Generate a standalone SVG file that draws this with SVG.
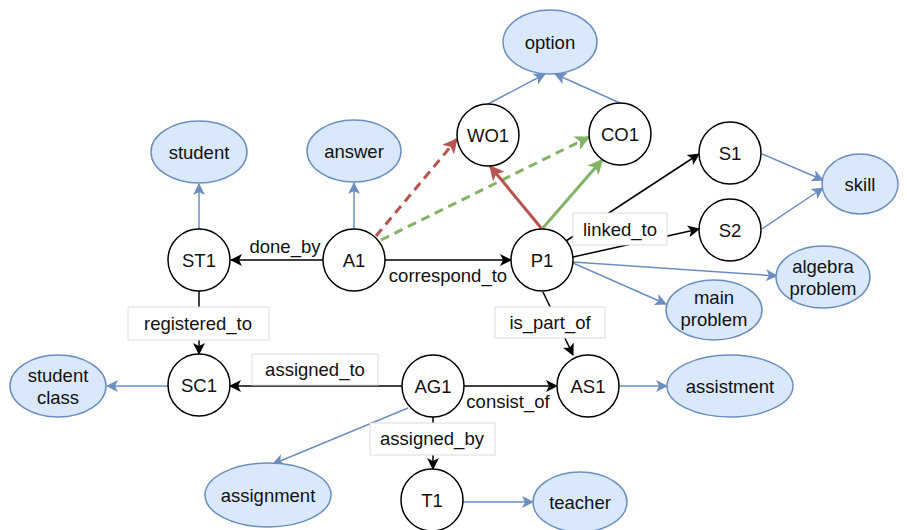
<svg xmlns="http://www.w3.org/2000/svg" width="907" height="530" viewBox="0 0 907 530">
<style>
text{font-family:"Liberation Sans",Arial,sans-serif;font-size:18.5px;fill:#111;text-anchor:middle}
.c{fill:#fff;stroke:#000;stroke-width:1.5}
.e{fill:#dae8fc;stroke:#6c8ebf;stroke-width:1.5}
.k{stroke:#000;stroke-width:1.5;fill:none}
.b{stroke:#6c8ebf;stroke-width:1.5;fill:none}
.r{stroke:#b85450;stroke-width:3;fill:none}
.g{stroke:#82b366;stroke-width:3;fill:none}
.d{stroke-dasharray:9 6}
.lb{fill:#fff;stroke:#ddd;stroke-width:1}
</style>
<defs>
<marker id="ak" viewBox="0 0 12 12" refX="11" refY="6" markerWidth="12" markerHeight="12" markerUnits="userSpaceOnUse" orient="auto"><path d="M0,0 L12,6 L0,12 L3,6 Z" fill="#000"/></marker>
<marker id="ab" viewBox="0 0 12 12" refX="11" refY="6" markerWidth="12" markerHeight="12" markerUnits="userSpaceOnUse" orient="auto"><path d="M0,0 L12,6 L0,12 L3,6 Z" fill="#6c8ebf"/></marker>
<marker id="ar" viewBox="0 0 12 12" refX="11" refY="6" markerWidth="15" markerHeight="15" markerUnits="userSpaceOnUse" orient="auto"><path d="M0,0 L12,6 L0,12 L3,6 Z" fill="#b85450"/></marker>
<marker id="ag" viewBox="0 0 12 12" refX="11" refY="6" markerWidth="15" markerHeight="15" markerUnits="userSpaceOnUse" orient="auto"><path d="M0,0 L12,6 L0,12 L3,6 Z" fill="#82b366"/></marker>
</defs>
<g id="connectors">
<line class="b" x1="199" y1="229" x2="199" y2="184" marker-end="url(#ab)"/>
<line class="b" x1="354" y1="229" x2="354" y2="183" marker-end="url(#ab)"/>
<line class="k" x1="323" y1="260" x2="231" y2="260" marker-end="url(#ak)"/>
<line class="k" x1="385" y1="260" x2="511" y2="260" marker-end="url(#ak)"/>
<line class="r d" x1="376" y1="236" x2="457" y2="139" marker-end="url(#ar)"/>
<line class="g d" x1="381" y1="240" x2="589" y2="137" marker-end="url(#ag)"/>
<line class="r" x1="542" y1="229" x2="490" y2="166" marker-end="url(#ar)"/>
<line class="g" x1="542" y1="229" x2="602" y2="160" marker-end="url(#ag)"/>
<line class="b" x1="488" y1="104" x2="545" y2="74" marker-end="url(#ab)"/>
<line class="b" x1="620" y1="103" x2="555" y2="74" marker-end="url(#ab)"/>
<line class="k" x1="566" y1="241" x2="699" y2="154" marker-end="url(#ak)"/>
<line class="k" x1="573" y1="257" x2="699" y2="229" marker-end="url(#ak)"/>
<line class="b" x1="573" y1="262" x2="777" y2="276" marker-end="url(#ab)"/>
<line class="b" x1="573" y1="263" x2="666" y2="304" marker-end="url(#ab)"/>
<line class="b" x1="762" y1="154" x2="823" y2="180" marker-end="url(#ab)"/>
<line class="b" x1="762" y1="229" x2="823" y2="188" marker-end="url(#ab)"/>
<line class="k" x1="543" y1="292" x2="573" y2="355" marker-end="url(#ak)"/>
<line class="k" x1="199" y1="291" x2="199" y2="354" marker-end="url(#ak)"/>
<line class="k" x1="402" y1="386" x2="230" y2="386" marker-end="url(#ak)"/>
<line class="k" x1="464" y1="386" x2="557" y2="386" marker-end="url(#ak)"/>
<line class="k" x1="433" y1="417" x2="433" y2="469" marker-end="url(#ak)"/>
<line class="b" x1="408" y1="408" x2="273" y2="464" marker-end="url(#ab)"/>
<line class="b" x1="168" y1="386" x2="107" y2="386" marker-end="url(#ab)"/>
<line class="b" x1="463" y1="502" x2="533" y2="502" marker-end="url(#ab)"/>
<line class="b" x1="619" y1="386" x2="667" y2="386" marker-end="url(#ab)"/>
<text x="285" y="253">done_by</text>
<text x="448" y="282">correspond_to</text>
<rect class="lb" x="573" y="213" width="94" height="32"/>
<text x="620" y="236">linked_to</text>
<rect class="lb" x="495" y="307" width="110" height="31"/>
<text x="550" y="329">is_part_of</text>
<rect class="lb" x="128" y="307" width="141" height="33"/>
<text x="198" y="330">registered_to</text>
<rect class="lb" x="252" y="354" width="126" height="31"/>
<text x="315" y="376">assigned_to</text>
<text x="508" y="408">consist_of</text>
<rect class="lb" x="370" y="423" width="125" height="32"/>
<text x="432" y="445">assigned_by</text>
</g>
<g id="option"><ellipse class="e" cx="550" cy="42" rx="47" ry="32"/><text x="550" y="49">option</text></g>
<g id="student"><ellipse class="e" cx="199" cy="152" rx="48" ry="31"/><text x="199" y="159">student</text></g>
<g id="answer"><ellipse class="e" cx="354" cy="151" rx="47" ry="31"/><text x="354" y="158">answer</text></g>
<g id="skill"><ellipse class="e" cx="860" cy="184" rx="38" ry="30"/><text x="860" y="191">skill</text></g>
<g id="algebra_problem"><ellipse class="e" cx="823" cy="277" rx="47" ry="31"/><text x="823" y="273">algebra</text><text x="823" y="295">problem</text></g>
<g id="main_problem"><ellipse class="e" cx="714" cy="310" rx="48" ry="30"/><text x="714" y="304">main</text><text x="714" y="326">problem</text></g>
<g id="student_class"><ellipse class="e" cx="58" cy="386" rx="48" ry="31"/><text x="58" y="382">student</text><text x="58" y="404">class</text></g>
<g id="assistment"><ellipse class="e" cx="730" cy="386" rx="63" ry="31"/><text x="730" y="393">assistment</text></g>
<g id="assignment"><ellipse class="e" cx="268" cy="495" rx="63" ry="32"/><text x="268" y="502">assignment</text></g>
<g id="teacher"><ellipse class="e" cx="580" cy="502" rx="47" ry="30"/><text x="580" y="509">teacher</text></g>
<g id="ST1"><circle class="c" cx="199" cy="260" r="31"/><text x="199" y="267">ST1</text></g>
<g id="A1"><circle class="c" cx="354" cy="260" r="31"/><text x="354" y="267">A1</text></g>
<g id="P1"><circle class="c" cx="542" cy="260" r="31"/><text x="542" y="267">P1</text></g>
<g id="WO1"><circle class="c" cx="488" cy="135" r="31"/><text x="488" y="142">WO1</text></g>
<g id="CO1"><circle class="c" cx="620" cy="134" r="31"/><text x="620" y="141">CO1</text></g>
<g id="S1"><circle class="c" cx="730" cy="153" r="31"/><text x="730" y="160">S1</text></g>
<g id="S2"><circle class="c" cx="730" cy="230" r="31"/><text x="730" y="237">S2</text></g>
<g id="SC1"><circle class="c" cx="199" cy="385" r="31"/><text x="199" y="392">SC1</text></g>
<g id="AG1"><circle class="c" cx="433" cy="386" r="31"/><text x="433" y="393">AG1</text></g>
<g id="AS1"><circle class="c" cx="588" cy="386" r="31"/><text x="588" y="393">AS1</text></g>
<g id="T1"><circle class="c" cx="432" cy="500" r="31"/><text x="432" y="507">T1</text></g>
</svg>
